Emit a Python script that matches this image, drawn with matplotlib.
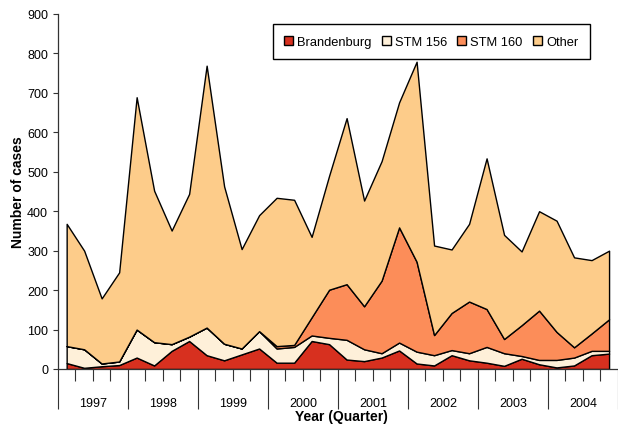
import matplotlib
matplotlib.use("Agg")
import matplotlib.pyplot as plt
import numpy as np

plt.rcParams['font.family'] = ['Liberation Sans', 'DejaVu Sans']

# quarterly case counts, 1997 Q1 .. 2004 Q4
years = ['1997', '1998', '1999', '2000', '2001', '2002', '2003', '2004']
brandenburg = [15, 3, 7, 10, 29, 9, 46, 71, 35, 22, 37, 52, 16, 16, 71, 63,
               24, 20, 29, 47, 14, 9, 35, 22, 16, 8, 26, 12, 4, 9, 35, 39]
stm156 = [43, 47, 7, 9, 71, 59, 17, 11, 70, 42, 15, 44, 36, 40, 14, 16,
          50, 30, 11, 20, 30, 26, 13, 18, 40, 32, 7, 11, 19, 20, 11, 7]
stm160 = [0, 0, 0, 0, 0, 0, 0, 0, 0, 0, 0, 0, 6, 5, 46, 122,
          141, 109, 184, 292, 228, 51, 94, 131, 96, 36, 78, 125, 71, 26, 44, 80]
other = [310, 250, 165, 226, 589, 384, 288, 362, 664, 399, 252, 294, 376, 368, 204, 289,
         421, 268, 303, 317, 507, 227, 161, 197, 382, 264, 187, 252, 282, 228, 186, 174]
names = ['Brandenburg', 'STM 156', 'STM 160', 'Other']
colours = ['#d7301f', '#fef0d9', '#fc8d59', '#fdcc8a']

fig = plt.figure(figsize=(6.18, 4.27), dpi=100)
ax = fig.add_axes([0.0937, 0.1335, 0.906, 0.8314])

x = np.arange(len(brandenburg))
ax.stackplot(x, brandenburg, stm156, stm160, other, colors=colours, labels=names,
             edgecolor='black', linewidth=1.0)

ax.set_xlim(-0.5, 31.3)
ax.set_ylim(0, 900)
ax.set_yticks(range(0, 901, 100))
ax.tick_params(axis='y', direction='out', length=3.6, width=0.8, labelsize=9, color='#333333')

for side in ['top', 'right']:
    ax.spines[side].set_visible(False)
for side in ['left', 'bottom']:
    ax.spines[side].set_color('#333333')
    ax.spines[side].set_linewidth(0.9)

# long ticks between years, short ones between quarters
year_edges = np.arange(-0.5, len(x), 4)
quarter_edges = [e for e in np.arange(-0.5, len(x)) if (e + 0.5) % 4]
ax.set_xticks(year_edges)
ax.set_xticklabels([])
ax.set_xticks(quarter_edges, minor=True)
ax.tick_params(axis='x', which='major', length=29, width=0.8, color='#333333')
ax.tick_params(axis='x', which='minor', length=8.6, width=0.8, color='#333333')

for i, yr in enumerate(years):
    ax.text(4 * i + 1.5, -0.096, yr, transform=ax.get_xaxis_transform(),
            ha='center', va='center', fontsize=9)

ax.set_xlabel('Year (Quarter)', fontsize=10, fontweight='bold')
ax.xaxis.set_label_coords(0.507, -0.112)
ax.set_ylabel('Number of cases', fontsize=10, fontweight='bold')
ax.yaxis.set_label_coords(-0.058, 0.5)

leg = ax.legend(loc='upper right', bbox_to_anchor=(0.9615, 0.99), ncol=4,
                fancybox=False, edgecolor='black', framealpha=1, fontsize=9.3,
                handlelength=0.7, handleheight=0.7, handletextpad=0.3,
                columnspacing=0.8, borderpad=0.9)
leg.get_frame().set_linewidth(1.0)

fig.savefig('out.png', dpi=100)
